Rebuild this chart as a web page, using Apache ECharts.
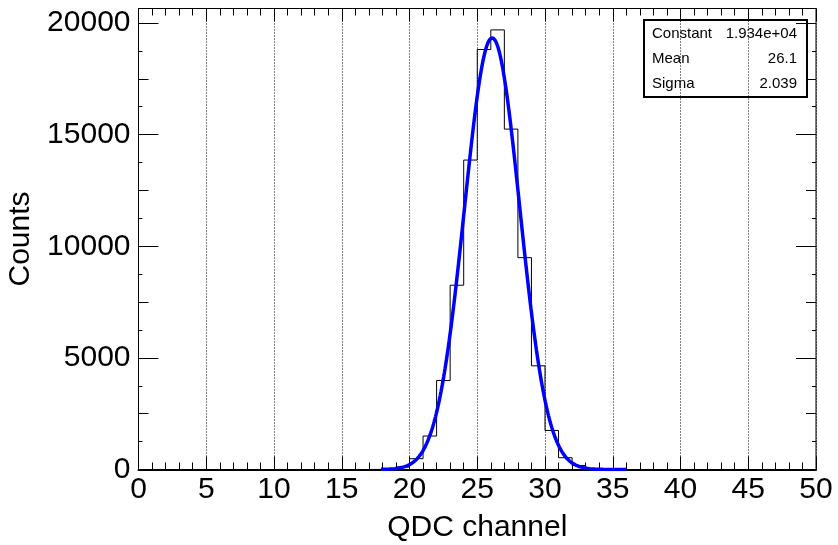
<!DOCTYPE html>
<html>
<head>
<meta charset="utf-8">
<script src="https://cdn.jsdelivr.net/npm/echarts@6/dist/echarts.min.js"></script>
<style>html,body{margin:0;padding:0;background:#fff}#c{width:838px;height:545px}</style>
</head>
<body>
<div id="c"></div>
<script>
// ---- data ----
const binLowEdges = [17, 18, 19, 20, 21, 22, 23, 24, 25, 26, 27, 28, 29, 30, 31, 32, 33, 34];
const binCounts   = [5, 20, 110, 483, 1499, 3987, 8255, 13861, 18814, 19691, 15248, 9490, 4644, 1749, 528, 180, 40, 8];
const binWidth = 1;
const xTickLabels = ['0','5','10','15','20','25','30','35','40','45','50'];
const yTickLabels = ['0','5000','10000','15000','20000'];
const statNames  = ['Constant', 'Mean', 'Sigma'];
const statValues = ['1.934e+04', '26.1', '2.039'];
const fitConstant = [19340];
const fitMean = [26.1];
const fitSigma = [2.039];
const fitRange = [17.9, 36.0];

// ---- build series ----
const histPts = [];
histPts.push([binLowEdges[0], 0]);
for (let i = 0; i < binLowEdges.length; i++) {
  histPts.push([binLowEdges[i], binCounts[i]]);
  histPts.push([binLowEdges[i] + binWidth, binCounts[i]]);
}
histPts.push([binLowEdges[binLowEdges.length - 1] + binWidth, 0]);

const fitPts = [];
const nFit = 360;
for (let k = 0; k <= nFit; k++) {
  const x = fitRange[0] + (fitRange[1] - fitRange[0]) * k / nFit;
  const z = (x - fitMean[0]) / fitSigma[0];
  fitPts.push([x, fitConstant[0] * Math.exp(-0.5 * z * z)]);
}

const YMAX = 20650;
const FONT = 'Liberation Sans, Arial, sans-serif';
const LBL = 30;

function yAx(pos, interval, len, opts) {
  return Object.assign({
    type: 'value', position: pos, min: 0, max: YMAX, interval: interval,
    axisLine: {show: false, onZero: false},
    axisTick: {show: true, inside: true, length: len, lineStyle: {color: '#000', width: 1}},
    axisLabel: {show: false},
    splitLine: {show: false}
  }, opts || {});
}

const chart = echarts.init(document.getElementById('c'), null, {renderer: 'canvas'});
chart.setOption({
  animation: false,
  backgroundColor: '#fff',
  grid: {left: 138.5, right: 22, top: 8.5, bottom: 75.5, show: true, borderColor: '#000', borderWidth: 1,
         containLabel: false, outerBoundsMode: 'none'},
  xAxis: [
    {
      type: 'value', position: 'bottom', min: 0, max: 50, interval: 5,
      name: 'QDC channel', nameLocation: 'middle', nameGap: 43,
      nameTextStyle: {fontFamily: FONT, fontSize: 30, color: '#000'},
      axisLine: {show: true, onZero: false, lineStyle: {color: '#000', width: 2}},
      axisTick: {show: true, inside: true, length: 13, lineStyle: {color: '#000', width: 1}},
      minorTick: {show: true, splitNumber: 5, length: 7, lineStyle: {color: '#000', width: 1}},
      axisLabel: {show: true, margin: 5, fontFamily: FONT, fontSize: LBL, color: '#000',
        formatter: function (v) { const i = Math.round(v / 5); return (Math.abs(v - i * 5) < 1e-6) ? xTickLabels[i] : ''; }},
      splitLine: {show: true, lineStyle: {color: '#000', width: 1, type: [1, 2]}}
    },
    {
      type: 'value', position: 'top', min: 0, max: 50, interval: 5,
      axisLine: {show: false, onZero: false},
      axisTick: {show: true, inside: true, length: 13, lineStyle: {color: '#000', width: 1}},
      minorTick: {show: true, splitNumber: 5, length: 7, lineStyle: {color: '#000', width: 1}},
      axisLabel: {show: false}, splitLine: {show: false}
    }
  ],
  yAxis: [
    yAx('left', 5000, 20, {
      name: 'Counts', nameLocation: 'middle', nameGap: 94,
      nameTextStyle: {fontFamily: FONT, fontSize: 30, color: '#000'},
      axisLine: {show: true, onZero: false, lineStyle: {color: '#000', width: 1}},
      axisLabel: {show: true, margin: 8, fontFamily: FONT, fontSize: LBL, color: '#000',
        formatter: function (v) { const i = Math.round(v / 5000); return (Math.abs(v - i * 5000) < 1e-6) ? yTickLabels[i] : ''; }}
    }),
    yAx('left', 2500, 10),
    yAx('left', 1250, 4),
    yAx('right', 5000, 20),
    yAx('right', 2500, 10),
    yAx('right', 1250, 4)
  ],
  series: [
    {
      type: 'line', name: 'hist', data: histPts, xAxisIndex: 0, yAxisIndex: 0,
      showSymbol: false, symbol: 'none', silent: true, z: 3,
      lineStyle: {color: '#000', width: 1}
    },
    {
      type: 'line', name: 'fit', data: fitPts, xAxisIndex: 0, yAxisIndex: 0,
      showSymbol: false, symbol: 'none', silent: true, z: 4, smooth: false,
      lineStyle: {color: '#0000ff', width: 3.5}
    }
  ],
  graphic: [
    {
      type: 'group', left: 643, top: 19, z: 100,
      children: [
        {type: 'rect', shape: {x: 1, y: 1, width: 163, height: 77},
          style: {fill: '#fff', stroke: '#000', lineWidth: 2}},
      ].concat(statNames.map(function (n, i) {
        return {type: 'text', x: 9, y: 15 + i * 25,
          style: {text: n, fontFamily: FONT, fontSize: 15, fill: '#000', verticalAlign: 'middle', align: 'left'}};
      })).concat(statValues.map(function (v, i) {
        return {type: 'text', x: 154, y: 15 + i * 25,
          style: {text: v, fontFamily: FONT, fontSize: 15, fill: '#000', verticalAlign: 'middle', align: 'right'}};
      }))
    }
  ]
});
</script>
</body>
</html>
